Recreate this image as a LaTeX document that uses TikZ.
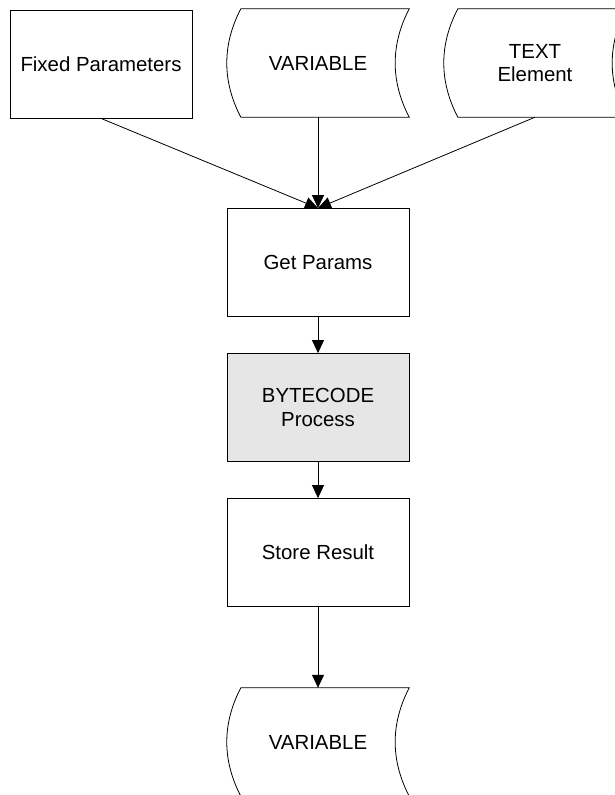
\documentclass[tikz,border=0pt]{standalone}
\usepackage{fontspec}
\setmainfont{Liberation Sans}
\usetikzlibrary{arrows.meta,calc}
\definecolor{procgray}{HTML}{E6E6E6}
\tikzset{
  base/.style={minimum width=182pt,minimum height=108pt,inner sep=0pt,align=center,
    font=\fontsize{20.4}{23.5}\selectfont},
  procbox/.style={base,draw,line width=0.8pt},
  storebox/.style={base},
  conn/.style={line width=0.8pt,-{Triangle[length=13pt,width=12pt]}},
  outline/.style={line width=0.8pt}
}
\newcommand{\storeshape}[1]{%
  \draw[outline,fill=white] ($(#1.north west)+(14,0)$) -- (#1.north east)
    .. controls ($(#1.north east)+(-18.7,36)$) and ($(#1.south east)+(-18.7,-36)$) .. (#1.south east)
    -- ($(#1.south west)+(14,0)$)
    .. controls ($(#1.south west)+(-4.7,-36)$) and ($(#1.north west)+(-4.7,36)$) .. cycle;}
\begin{document}
\begin{tikzpicture}[x=1pt,y=-1pt]
\useasboundingbox (0,0) rectangle (615,795);
\clip (0,0) rectangle (615,795);
\node[procbox] (fp) at (101,64) {Fixed Parameters};
\node[storebox] (v1) at (318,63) {};
\node[storebox] (te) at (535,63) {};
\node[procbox] (gp) at (318,262.5) {Get Params};
\node[procbox,fill=procgray] (bc) at (318,407.5) {BYTECODE\\Process};
\node[procbox] (sr) at (318,552.5) {Store Result};
\node[storebox] (v2) at (318,742) {};
\storeshape{v1}
\storeshape{te}
\storeshape{v2}
\node[base] at (v1) {VARIABLE};
\node[base] at (te) {TEXT\\Element};
\node[base] at (v2) {VARIABLE};
\draw[conn] (fp.south) -- (gp.north);
\draw[conn] (v1.south) -- (gp.north);
\draw[conn] (te.south) -- (gp.north);
\draw[conn] (gp.south) -- (bc.north);
\draw[conn] (bc.south) -- (sr.north);
\draw[conn] (sr.south) -- (v2.north);
\end{tikzpicture}
\end{document}
